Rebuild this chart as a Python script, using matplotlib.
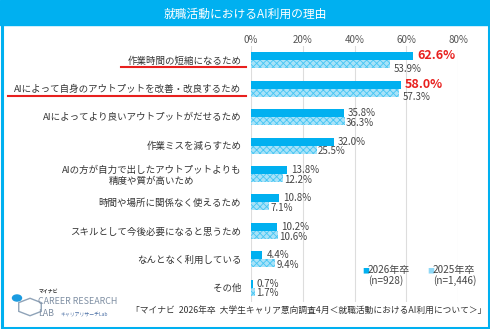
import matplotlib
matplotlib.use("Agg")
import matplotlib.pyplot as plt
import numpy as np
from matplotlib.patches import Rectangle, Circle, RegularPolygon
from matplotlib.lines import Line2D

plt.rcParams['font.family'] = ['Noto Sans CJK JP', 'DejaVu Sans']
plt.rcParams['hatch.linewidth'] = 0.6

categories = [
    "作業時間の短縮になるため",
    "AIによって自身のアウトプットを改善・改良するため",
    "AIによってより良いアウトプットがだせるため",
    "作業ミスを減らすため",
    "AIの方が自力で出したアウトプットよりも\n精度や質が高いため",
    "時間や場所に関係なく使えるため",
    "スキルとして今後必要になると思うため",
    "なんとなく利用している",
    "その他",
]
vals_2026 = [62.6, 58.0, 35.8, 32.0, 13.8, 10.8, 10.2, 4.4, 0.7]
vals_2025 = [53.9, 57.3, 36.3, 25.5, 12.2, 7.1, 10.6, 9.4, 1.7]
xticks = [0, 20, 40, 60, 80]
highlight = [0, 1]  # rows with red labels + underline

BLUE = '#00B0F0'
W, H = 490, 329

fig = plt.figure(figsize=(W / 100, H / 100), dpi=100)

def fx(px):
    return px / W

def fy(py):
    return 1 - py / H

# frame + title bar
fig.patches.append(Rectangle((0, fy(25)), 1, fy(0) - fy(25), transform=fig.transFigure,
                             color=BLUE, zorder=0))
fig.patches.append(Rectangle((fx(1.5), fy(327.5)), fx(487), fy(1.5) - fy(327.5),
                             transform=fig.transFigure, fill=False, edgecolor=BLUE,
                             linewidth=2.2, zorder=5))
fig.text(0.5, fy(14), "就職活動におけるAI利用の理由", color='white', fontsize=8.5,
         ha='center', va='center')

ax = fig.add_axes([fx(251), fy(302), fx(207), fy(46) - fy(302)])
y = np.arange(len(categories))
bh = 0.28
ax.barh(y - bh / 2, vals_2026, height=bh, color=BLUE, linewidth=0, zorder=3)
ax.barh(y + bh / 2, vals_2025, height=bh, facecolor='#A8E2F8', edgecolor='#45C6F4',
        hatch='xxxxx', linewidth=0, zorder=3)

for i, (a, b) in enumerate(zip(vals_2026, vals_2025)):
    if i in highlight:
        ax.text(a + 1.6, i - bh / 2 - 0.02, f"{a:.1f}%", color='#E8201E', fontsize=9,
                fontweight='bold', ha='left', va='center', zorder=4)
        ax.text(b + 1.2, i + bh / 2 + 0.16, f"{b:.1f}%", color='#444444', fontsize=7,
                ha='left', va='center', zorder=4)
    else:
        ax.text(a + 1.6, i - bh / 2, f"{a:.1f}%", color='#444444', fontsize=7,
                ha='left', va='center', zorder=4)
        ax.text(b + 0.4, i + bh / 2 + 0.06, f"{b:.1f}%", color='#444444', fontsize=7,
                ha='left', va='center', zorder=4)

ax.set_xlim(0, 80)
ax.set_ylim(len(categories) - 0.5, -0.5)
ax.set_xticks(xticks)
ax.set_xticklabels([f"{t}%" for t in xticks])
ax.xaxis.tick_top()
ax.tick_params(axis='x', length=0, pad=1, labelsize=7, labelcolor='#555555')
ax.set_yticks(y)
ax.set_yticklabels(categories)
ax.tick_params(axis='y', length=0, pad=7, labelsize=6.8, labelcolor='#333333')
for lab in ax.get_yticklabels():
    lab.set_multialignment('center')
ax.grid(axis='x', color='#DDDDDD', linewidth=0.8, zorder=0)
for s in ax.spines.values():
    s.set_visible(False)

# red underlines below highlighted category labels
fig.canvas.draw()
renderer = fig.canvas.get_renderer()
inv = fig.transFigure.inverted()
for i in highlight:
    bb = ax.get_yticklabels()[i].get_window_extent(renderer)
    x0, y0 = inv.transform((bb.x0 - 6, bb.y0 - 1.5))
    x1, _ = inv.transform((bb.x1 + 5, bb.y0))
    fig.lines.append(Line2D([x0, x1], [y0, y0], transform=fig.transFigure,
                            color='#E8201E', linewidth=1.5))

# legend
fig.text(fx(362), fy(271), "■", color=BLUE, fontsize=5, ha='left', va='center')
fig.text(fx(368), fy(265), "2026年卒\n(n=928)", color='#444444', fontsize=7.2,
         ha='left', va='top', linespacing=1.05)
fig.text(fx(427), fy(271), "■", color='#8FD8F6', fontsize=5, ha='left', va='center')
fig.text(fx(433), fy(265), "2025年卒\n(n=1,446)", color='#444444', fontsize=7.2,
         ha='left', va='top', linespacing=1.05)

# source
fig.text(fx(486), fy(310), "「マイナビ  2026年卒  大学生キャリア意向調査4月＜就職活動におけるAI利用について＞」",
         color='#333333', fontsize=6.3, ha='right', va='center')

# logo
fig.patches.append(RegularPolygon((fx(30), fy(307)), 6, radius=fx(13), orientation=0,
                                  transform=fig.transFigure, fill=False,
                                  edgecolor='#8FA3B8', linewidth=1.0))
fig.patches.append(Circle((fx(17), fy(298)), fx(4.5), transform=fig.transFigure,
                          color='#1A9BE0'))
fig.text(fx(39), fy(291), "マイナビ", color='#333333', fontsize=3.5, fontweight='bold',
         ha='left', va='center')
fig.text(fx(38), fy(301), "CAREER RESEARCH", color='#7F8FA3', fontsize=6.4,
         ha='left', va='center')
fig.text(fx(38), fy(314), "LAB", color='#7F8FA3', fontsize=6.4, ha='left', va='center')
fig.text(fx(60), fy(314), "キャリアリサーチLab", color='#4A6FA5', fontsize=3.5,
         ha='left', va='center')

fig.savefig('out.png', dpi=100)
